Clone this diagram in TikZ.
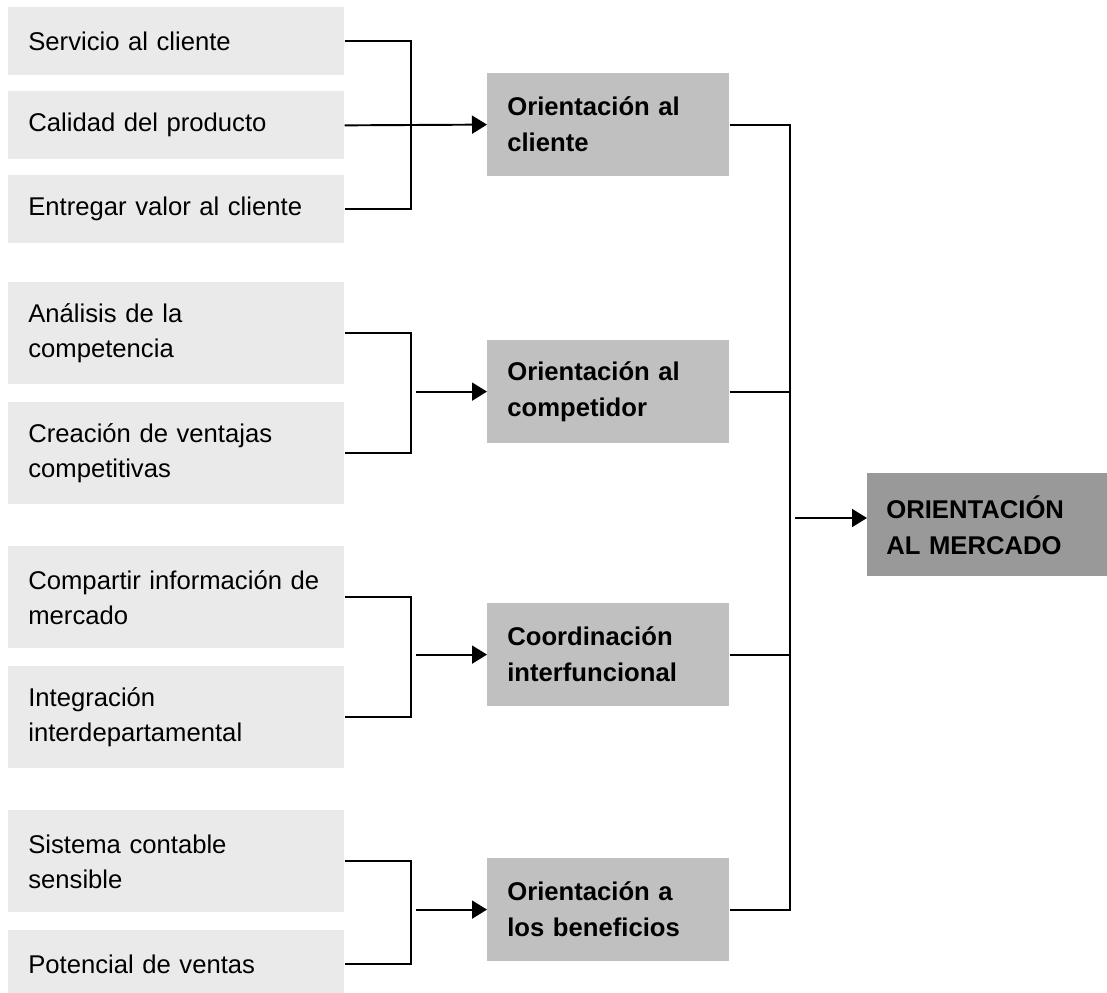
\documentclass[tikz,border=0pt]{standalone}
\usepackage{fontspec}
\setmainfont{Liberation Sans}
\usetikzlibrary{arrows.meta, positioning}
\definecolor{itemGray}{HTML}{EAEAEA}
\definecolor{dimGray}{HTML}{C0C0C0}
\definecolor{goalGray}{HTML}{999999}
\tikzset{
  itembox/.style={fill=itemGray, anchor=north west, align=left, inner xsep=0.4cm, inner ysep=0pt,
    text width=5.92cm, font=\fontsize{14.6}{19.9}\selectfont},
  dimbox/.style={fill=dimGray, anchor=north west, align=left, inner xsep=0.4cm, inner ysep=0pt,
    text width=4.04cm, minimum height=2.05cm, font=\fontsize{14.6}{20.5}\selectfont\bfseries},
  goalbox/.style={fill=goalGray, anchor=north west, align=left, inner xsep=0.38cm, inner ysep=0pt,
    text width=4.04cm, minimum height=2.06cm, font=\fontsize{14.6}{20.5}\selectfont\bfseries},
  link/.style={line width=1.1pt},
  flowarr/.style={-{Triangle[length=0.3cm, width=0.36cm]}, line width=1.1pt},
}
\begin{document}
\begin{tikzpicture}[x=0.02cm, y=-0.02cm]
  \useasboundingbox (0,0) rectangle (1107,992);
  % items on the left
  \node[itembox, minimum height=1.36cm] (servicio) at (8,7) {Servicio al cliente};
  \node[itembox, minimum height=1.36cm] (calidad) at (8,91) {Calidad del producto};
  \node[itembox, minimum height=1.36cm] (entregar) at (8,175) {Entregar valor al cliente};
  \node[itembox, minimum height=2.04cm] (analisis) at (8,282) {Análisis de la\\competencia};
  \node[itembox, minimum height=2.04cm] (creacion) at (8,402) {Creación de ventajas\\competitivas};
  \node[itembox, minimum height=2.04cm] (compartir) at (8,546) {Compartir información de\\mercado};
  \node[itembox, minimum height=2.04cm] (integracion) at (8,666) {Integración\\interdepartamental};
  \node[itembox, minimum height=2.04cm] (sistema) at (8,810) {Sistema contable\\sensible};
  \node[itembox, minimum height=1.36cm] (potencial) at (8,930) {Potencial de ventas};
  % dimensions
  \node[dimbox] (cliente) at (487,73) {Orientación al\\cliente};
  \node[dimbox] (competidor) at (487,340) {Orientación al\\competidor};
  \node[dimbox] (coordinacion) at (487,603) {Coordinación\\interfuncional};
  \node[dimbox] (beneficios) at (487,858) {Orientación a\\los beneficios};
  \node[goalbox] (mercado) at (867,473) {ORIENTACIÓN\\AL MERCADO};
  % brackets on the left
  \draw[link] (servicio.east) -- ++(66,0) |- (entregar.east);
  \draw[flowarr] (calidad.east) -- (cliente.west);
  \draw[link] (analisis.east) -- ++(66,0) |- (creacion.east);
  \draw[link] (compartir.east) -- ++(66,0) |- (integracion.east);
  \draw[link] (sistema.east) -- ++(66,0) |- (potencial.east);
  \coordinate[left=1.42cm of competidor] (inComp);
  \coordinate[left=1.42cm of coordinacion] (inCoord);
  \coordinate[left=1.42cm of beneficios] (inBen);
  \draw[flowarr] (inComp) -- (competidor);
  \draw[flowarr] (inCoord) -- (coordinacion);
  \draw[flowarr] (inBen) -- (beneficios);
  % bracket on the right
  \draw[link] (cliente.east) -- ++(60,0) |- (beneficios.east);
  \draw[link] (competidor.east) -- ++(60,0);
  \draw[link] (coordinacion.east) -- ++(60,0);
  \coordinate (inMerc) at (795,518);
  \draw[flowarr] (inMerc) -- (inMerc -| mercado.west);
\end{tikzpicture}
\end{document}
